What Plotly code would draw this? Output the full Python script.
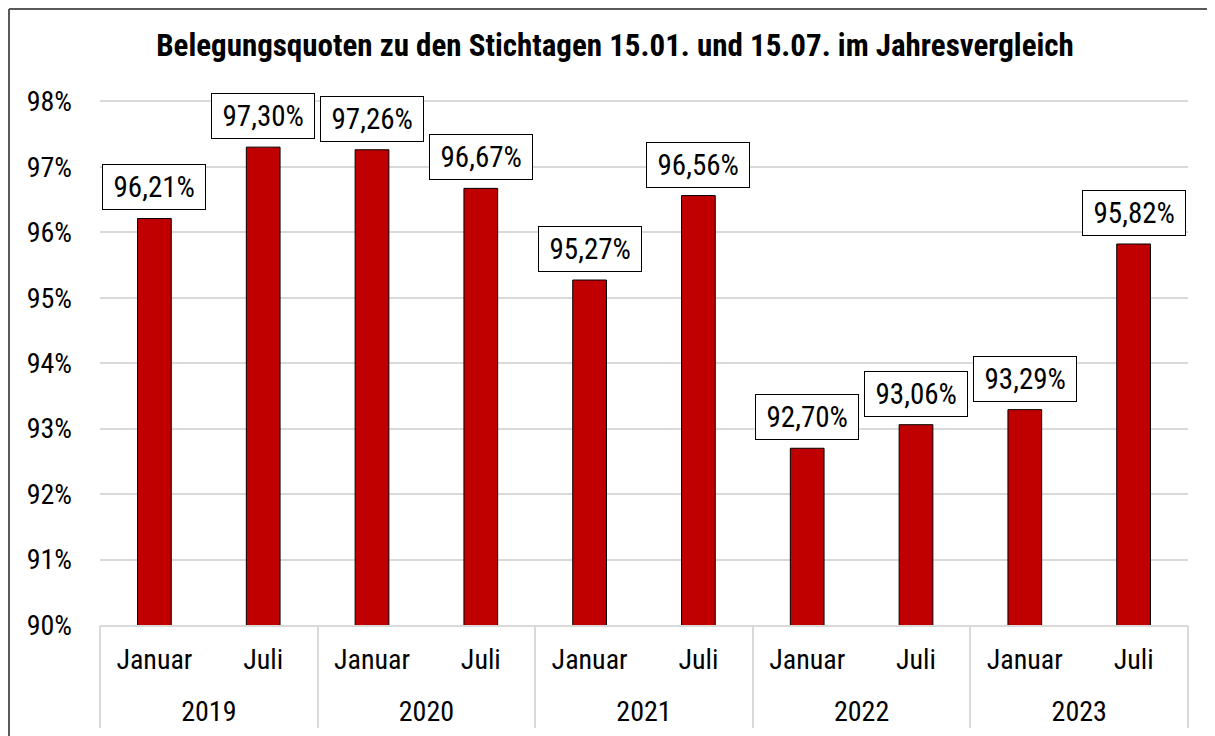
import plotly.graph_objects as go

years = ["2019", "2020", "2021", "2022", "2023"]
months = ["Januar", "Juli"] * 5
values = [96.21, 97.30, 97.26, 96.67, 95.27, 96.56, 92.70, 93.06, 93.29, 95.82]
labels = ["96,21%", "97,30%", "97,26%", "96,67%", "95,27%", "96,56%", "92,70%", "93,06%", "93,29%", "95,82%"]
ytick_vals = [90, 91, 92, 93, 94, 95, 96, 97, 98]
ytick_text = ["90%", "91%", "92%", "93%", "94%", "95%", "96%", "97%", "98%"]
title = "Belegungsquoten zu den Stichtagen 15.01. und 15.07. im Jahresvergleich"

FONT = "Liberation Sans Narrow, Arial Narrow, Roboto Condensed, Liberation Sans, sans-serif"

pos = list(range(len(values)))
year_pos = [2 * k + 0.5 for k in range(len(years))]
div_pos = [2 * k - 0.5 for k in range(len(years) + 1)]

W, H = 1215, 736
ML, MR, MT, MB = 92, 35, 92, 119
PW = W - ML - MR
PH = H - MT - MB

fig = go.Figure()
fig.add_trace(go.Bar(
    x=pos, y=values,
    marker=dict(color="#C00000", line=dict(color="#000000", width=1)),
    width=0.31,
))
# invisible trace to activate year axis
fig.add_trace(go.Scatter(x=year_pos, y=[None] * len(year_pos), xaxis="x2", yaxis="y",
                         mode="markers", showlegend=False, hoverinfo="skip"))

for i, (v, t) in enumerate(zip(values, labels)):
    fig.add_annotation(
        x=pos[i], y=v, text="\u2009" + t + "\u2009", showarrow=False, yanchor="bottom", yshift=8,
        font=dict(family=FONT, size=29, color="#000"),
        bgcolor="white", bordercolor="#000", borderwidth=1, borderpad=5,
    )

# outer chart border (top and left edges visible)
x_left = -(ML - 1) / PW
y_top = 1 + (MT - 1) / PH
fig.add_shape(type="line", xref="paper", yref="paper", x0=x_left, x1=1.2, y0=y_top, y1=y_top,
              line=dict(color="#595959", width=2), layer="below")
fig.add_shape(type="line", xref="paper", yref="paper", x0=x_left, x1=x_left, y0=-0.5, y1=y_top,
              line=dict(color="#595959", width=2), layer="below")

fig.update_layout(
    width=W, height=H,
    margin=dict(l=ML, r=MR, t=MT, b=MB),
    paper_bgcolor="white", plot_bgcolor="white",
    showlegend=False,
    font=dict(family=FONT, size=28, color="#000"),
    title=dict(text="<b>" + title + "</b>", x=607 / W, xref="container", xanchor="center",
               y=1 - 37 / H, yanchor="middle",
               font=dict(family=FONT, size=31, color="#000")),
    xaxis=dict(range=[-0.5, 9.5], tickvals=pos, ticktext=months, ticks="", ticklabelstandoff=8,
               showline=True, linecolor="#d9d9d9", linewidth=2, showgrid=False, zeroline=False,
               automargin=False, tickfont=dict(family=FONT, size=28, color="#000")),
    xaxis2=dict(range=[-0.5, 9.5], overlaying="x", side="bottom", anchor="y",
                tickvals=year_pos, ticktext=years, ticks="", ticklabelstandoff=67,
                showgrid=False, zeroline=False, showline=False, automargin=False,
                minor=dict(tickvals=div_pos, ticks="outside", ticklen=102,
                           tickcolor="#d9d9d9", tickwidth=2, showgrid=False),
                tickfont=dict(family=FONT, size=28, color="#000")),
    yaxis=dict(range=[90, 98.02], tickvals=ytick_vals, ticktext=ytick_text,
               showgrid=True, gridcolor="#d9d9d9", gridwidth=2, zeroline=False,
               ticklabelstandoff=27, automargin=False,
               tickfont=dict(family=FONT, size=28, color="#000")),
)

fig.write_html("out.html",
               post_script="document.documentElement.style.overflow='hidden';document.body.style.overflow='hidden';")
